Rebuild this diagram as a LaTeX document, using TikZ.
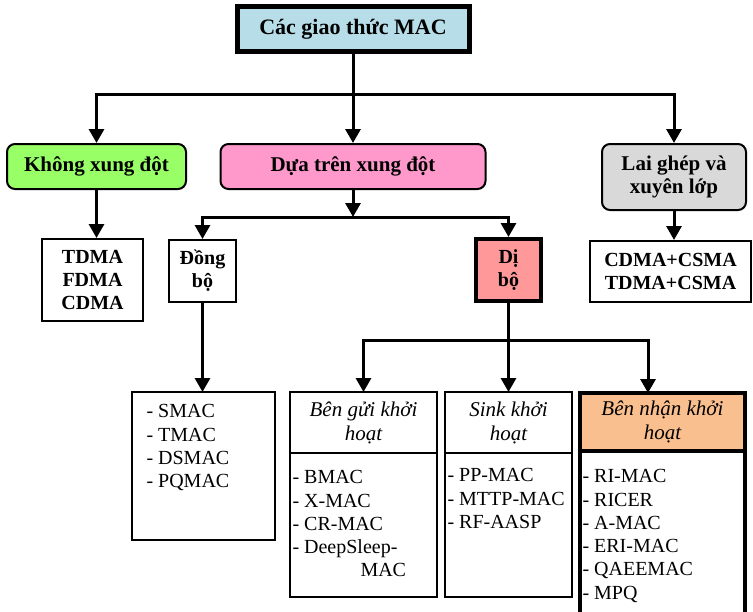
\documentclass[tikz,border=0pt]{standalone}
\usepackage{fontspec}
\setmainfont{Liberation Serif}
\usetikzlibrary{arrows.meta,positioning,calc}
\definecolor{titleblue}{RGB}{183,221,232}
\definecolor{nogreen}{RGB}{153,255,102}
\definecolor{contpink}{RGB}{255,153,204}
\definecolor{hybgray}{RGB}{217,217,217}
\definecolor{asyncred}{RGB}{255,153,153}
\definecolor{recvorange}{RGB}{250,191,143}

\begin{document}
\begin{tikzpicture}[x=1pt,y=-1pt,>={Triangle[length=14pt,width=15pt]},line width=3pt]
 \tikzstyle{box node}=[rectangle,draw,line width=2pt,align=center,inner sep=1pt,font=\fontsize{20}{23.3}\selectfont\bfseries]
 \tikzstyle{round node}=[box node,rounded corners=8pt,font=\fontsize{21}{23.5}\selectfont\bfseries]
 \tikzset{
 	title node/.style={box node,line width=5pt,fill=titleblue,font=\fontsize{22}{26}\selectfont\bfseries},
 	head node/.style={box node,outer sep=0pt,font=\fontsize{21}{24}\selectfont\itshape},
 	list node/.style={rectangle,draw,line width=2pt,outer sep=0pt},
 	item text/.style={anchor=north west,align=left,inner sep=0pt,font=\fontsize{20}{23.3}\selectfont}
 }
 \useasboundingbox (0,0) rectangle (753,611);

       \node[title node,minimum width=232pt,minimum height=45pt] (top) at (353,29) {Các giao thức MAC};

       \node[round node,fill=nogreen,minimum width=179pt,minimum height=45pt] (kxd) at (96.5,166.5) {Không xung đột};
       \node[round node,fill=contpink,minimum width=265pt,minimum height=45pt] (dtxd) at (353,166.5) {Dựa trên xung đột};
       \node[round node,fill=hybgray,minimum width=144pt,minimum height=66pt] (lai) at (674,177) {Lai ghép và\\xuyên lớp};

       \node[box node,minimum width=101pt,minimum height=82pt] (tdma) at (92.5,280) {TDMA\\FDMA\\CDMA};
       \node[box node,minimum width=67pt,minimum height=62pt] (dong) at (202.5,271) {Đồng\\bộ};
       \node[box node,line width=4pt,fill=asyncred,minimum width=65pt,minimum height=62pt] (di) at (508.5,270) {Dị\\bộ};
       \node[box node,minimum width=161pt,minimum height=61pt] (hyb) at (670.5,271.5) {CDMA+CSMA\\TDMA+CSMA};

       % dong bo
       \node[list node,minimum width=143pt,minimum height=148pt] (sync) at (203.5,466) {};
       \node[item text] (synct) at (145,403) {- SMAC\\- TMAC\\- DSMAC\\- PQMAC};

       % di bo
       \node[head node,minimum width=147pt,minimum height=61pt] (send) at (363.5,422.5) {Bên gửi khởi\\hoạt};
       \node[list node,minimum width=147pt,minimum height=144pt,below=0pt of send] (sendl) {};
       \node[item text] (sendt) at (291,469) {- BMAC\\- X-MAC\\- CR-MAC\\- DeepSleep-\\\hspace*{68pt}MAC};

       \node[head node,minimum width=127pt,minimum height=61pt] (sink) at (508.5,422.5) {Sink khởi\\hoạt};
       \node[list node,minimum width=127pt,minimum height=144pt,below=0pt of sink] (sinkl) {};
       \node[item text] (sinkt) at (446,467) {- PP-MAC\\- MTTP-MAC\\- RF-AASP};

       \node[head node,line width=4pt,fill=recvorange,minimum width=165pt,minimum height=58pt] (recv) at (662.5,422) {Bên nhận khởi\\hoạt};
       \node[list node,line width=4pt,minimum width=165pt,minimum height=190pt,below=0pt of recv] (recvl) {};
       \node[item text] (recvt) at (581,468) {- RI-MAC\\- RICER\\- A-MAC\\- ERI-MAC\\- QAEEMAC\\- MPQ};

       \coordinate (h1) at (0,94);
       \coordinate (h2) at (0,217);
       \coordinate (h3) at (0,340);
       \coordinate (rx) at (648,340);

     \draw[line cap=rect] (kxd.north |- h1) -- (lai.north |- h1);
     \draw[->] (top) -- (dtxd);
     \draw[->] (kxd.north |- h1) -- (kxd);
     \draw[->] (lai.north |- h1) -- (lai);

     \draw[->] (kxd.south) -- (kxd.south |- tdma.north);
     \draw[->] (lai.south) -- (lai.south |- hyb.north);

     \draw[->] (dtxd) -- (dtxd.south |- h2);
     \draw[line cap=rect] (dong.north |- h2) -- (di.north |- h2);
     \draw[->] (dong.north |- h2) -- (dong);
     \draw[->] (di.north |- h2) -- (di);

     \draw[->] (dong.south) -- (dong.south |- sync.north);

     \draw (di.south) -- (di.south |- h3);
     \draw[line cap=rect] (send.north |- h3) -- (rx);
     \draw[->] (send.north |- h3) -- (send);
     \draw[->] (sink.north |- h3) -- (sink);
     \draw[->] (rx) -- (rx |- recv.north);
\end{tikzpicture}
\end{document}
